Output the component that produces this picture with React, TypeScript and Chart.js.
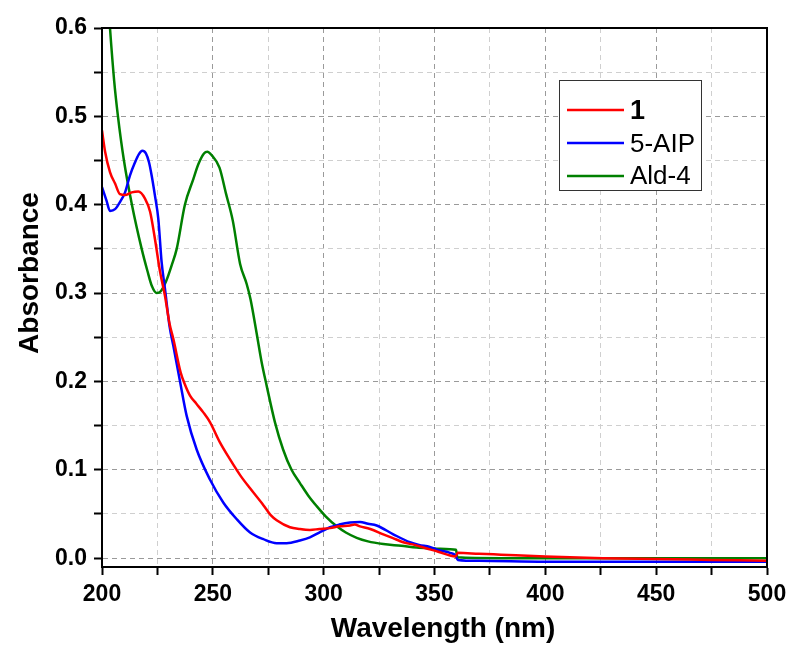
import React, { useEffect, useRef } from "react";
import { Chart, registerables } from "chart.js";

Chart.register(...registerables);

const seriesNames = ["1", "5-AIP", "Ald-4"];
const seriesColors = ["#ff0000", "#0000ff", "#008000"];

const wl1 = [200, 201.4, 203.6, 205.9, 208.1, 210.4, 213.4, 216.4, 219.4, 221.7, 223.9, 226.2, 228.4, 230.5, 232.2, 235.5, 237.5, 239.7, 242.5, 245.7, 248.7, 253.2, 257.7, 262.3, 266.8, 272.8, 276, 278.8, 284.8, 289.3, 293.8, 298, 302.9, 307, 311.9, 314, 316.4, 321, 326.9, 331, 335.9, 341, 346.5, 352, 357, 359.5, 360.5, 370, 380, 400, 426, 450, 475, 500];
const abs1 = [0.484, 0.46, 0.437, 0.424, 0.412, 0.411, 0.414, 0.415, 0.407, 0.392, 0.361, 0.324, 0.297, 0.265, 0.248, 0.21, 0.196, 0.184, 0.175, 0.165, 0.154, 0.131, 0.112, 0.094, 0.079, 0.06, 0.049, 0.043, 0.035, 0.033, 0.032, 0.033, 0.034, 0.036, 0.037, 0.038, 0.036, 0.033, 0.027, 0.023, 0.018, 0.015, 0.011, 0.007, 0.003, 0.002, 0.006, 0.005, 0.004, 0.002, 0.0, -0.001, -0.002, -0.003];

const wlAIP = [200, 202, 203.6, 205.9, 208.1, 210.4, 212.6, 214.9, 216.6, 218.2, 219.8, 221.2, 222.4, 223.9, 225.4, 226.9, 228.4, 230.5, 232.2, 235.2, 238.2, 242.7, 248.7, 254.7, 260.8, 266.8, 272.8, 278.8, 283.3, 289.3, 293.8, 298, 302.9, 307, 311.9, 316.4, 320, 323.9, 331.4, 338.9, 343, 347.9, 352, 357, 359.5, 360.5, 370, 400, 450, 500];
const absAIP = [0.42, 0.405, 0.393, 0.395, 0.403, 0.414, 0.433, 0.448, 0.457, 0.461, 0.458, 0.448, 0.433, 0.41, 0.384, 0.335, 0.305, 0.262, 0.24, 0.2, 0.161, 0.123, 0.089, 0.063, 0.044, 0.029, 0.0215, 0.017, 0.017, 0.02, 0.0235, 0.029, 0.035, 0.038, 0.0404, 0.041, 0.039, 0.037, 0.027, 0.018, 0.015, 0.0127, 0.009, 0.006, 0.003, -0.002, -0.003, -0.004, -0.004, -0.004];

const wlAld = [200, 202, 203.6, 205.5, 207.2, 209.9, 213.5, 217.9, 220.5, 222.5, 224.7, 226.5, 229, 231.5, 233.7, 237.4, 241.2, 243.5, 246, 247.5, 249.5, 253, 256, 259, 262.3, 265.3, 267, 269.8, 272, 274.3, 278, 281.7, 285.5, 289.3, 293, 296.8, 301, 305.9, 310, 314.9, 320, 326.9, 335, 342, 350, 357, 359.7, 360.3, 380, 400, 450, 500];
const absAld = [0.74, 0.66, 0.6, 0.54, 0.5, 0.45, 0.4, 0.35, 0.325, 0.308, 0.3, 0.302, 0.314, 0.332, 0.35, 0.4, 0.429, 0.446, 0.458, 0.46, 0.456, 0.442, 0.412, 0.382, 0.333, 0.31, 0.293, 0.254, 0.222, 0.195, 0.154, 0.123, 0.1, 0.085, 0.071, 0.059, 0.047, 0.036, 0.029, 0.023, 0.019, 0.016, 0.014, 0.012, 0.011, 0.01, 0.0095, 0.001, 0.0, 0.0, 0.0, 0.0];

const xTickValues = [200, 225, 250, 275, 300, 325, 350, 375, 400, 425, 450, 475, 500];
const xLabelValues = [200, 250, 300, 350, 400, 450, 500];
const yTickValues = [0, 0.05, 0.1, 0.15, 0.2, 0.25, 0.3, 0.35, 0.4, 0.45, 0.5, 0.55, 0.6];
const yLabelValues = ["0.0", "0.1", "0.2", "0.3", "0.4", "0.5", "0.6"];

const xTitle = "Wavelength (nm)";
const yTitle = "Absorbance";

const FONT = "'Liberation Sans', Arial, sans-serif";

const toPoints = (xs: number[], ys: number[]) => xs.map((x, i) => ({ x, y: ys[i] }));

const framePlugin = {
  id: "frameAndLegend",
  afterDraw(chart: any) {
    const { ctx, chartArea } = chart;
    ctx.save();
    ctx.setLineDash([]);
    ctx.strokeStyle = "#000";
    ctx.lineWidth = 2;
    ctx.strokeRect(chartArea.left, chartArea.top, chartArea.right - chartArea.left, chartArea.bottom - chartArea.top);

    // axis titles
    ctx.fillStyle = "#000";
    ctx.font = `bold 28px ${FONT}`;
    ctx.textAlign = "center";
    ctx.textBaseline = "alphabetic";
    ctx.fillText(xTitle, 443, 637);
    ctx.save();
    ctx.translate(38, 273);
    ctx.rotate(-Math.PI / 2);
    ctx.fillText(yTitle, 0, 0);
    ctx.restore();

    // legend
    const lx = 559.5, ly = 80.5, lw = 142, lh = 110;
    ctx.fillStyle = "#fff";
    ctx.fillRect(lx, ly, lw, lh);
    ctx.strokeStyle = "#333";
    ctx.lineWidth = 1;
    ctx.strokeRect(lx, ly, lw, lh);
    const lineYs = [110, 143, 176];
    const textYs = [119, 152, 184];
    seriesNames.forEach((name, i) => {
      ctx.strokeStyle = seriesColors[i];
      ctx.lineWidth = 2.5;
      ctx.beginPath();
      ctx.moveTo(567, lineYs[i]);
      ctx.lineTo(624, lineYs[i]);
      ctx.stroke();
      ctx.fillStyle = "#000";
      ctx.textAlign = "left";
      ctx.font = i === 0 ? `bold 27px ${FONT}` : `26px ${FONT}`;
      ctx.fillText(name, 630, textYs[i]);
    });
    ctx.restore();
  },
};

export default function App() {
  const ref = useRef<HTMLCanvasElement | null>(null);
  useEffect(() => {
    if (!ref.current) return;
    const datasets = [toPoints(wl1, abs1), toPoints(wlAIP, absAIP), toPoints(wlAld, absAld)].map((data, i) => ({
      label: seriesNames[i],
      data,
      borderColor: seriesColors[i],
      backgroundColor: seriesColors[i],
      borderWidth: 2.5,
      pointRadius: 0,
      cubicInterpolationMode: "monotone" as const,
      fill: false,
    }));
    const gridColor = (major: boolean) => (major ? "#9a9a9a" : "#cfcfcf");
    const chart = new Chart(ref.current, {
      type: "line",
      data: { datasets },
      plugins: [framePlugin],
      options: {
        animation: false,
        responsive: false,
        maintainAspectRatio: false,
        layout: { padding: { top: 28, right: 26, left: 0, bottom: 0 } },
        plugins: { legend: { display: false }, tooltip: { enabled: false } },
        scales: {
          x: {
            type: "linear",
            min: 200,
            max: 500,
            afterBuildTicks: (scale: any) => {
              scale.ticks = xTickValues.map((v) => ({ value: v }));
            },
            afterFit: (scale: any) => {
              scale.height = 81;
            },
            ticks: {
              autoSkip: false,
              maxRotation: 0,
              padding: 6,
              color: "#000",
              font: { family: FONT, size: 23, weight: "bold" },
              callback: (v: any) => (xLabelValues.includes(Number(v)) ? String(v) : ""),
            },
            grid: {
              color: (c: any) => gridColor(c.tick && c.tick.value % 50 === 0),
              lineWidth: 1,
              borderDash: [5, 4],
              tickColor: "#000",
              tickLength: 8,
              tickWidth: 2,
              tickBorderDash: [],
            } as any,
            border: { display: true, color: "#000", width: 2, dash: [5, 4] } as any,
          },
          y: {
            type: "linear",
            min: -0.01,
            max: 0.6,
            afterBuildTicks: (scale: any) => {
              scale.ticks = yTickValues.map((v) => ({ value: v }));
            },
            afterFit: (scale: any) => {
              scale.width = 102;
            },
            ticks: {
              autoSkip: false,
              padding: 7,
              color: "#000",
              font: { family: FONT, size: 23, weight: "bold" },
              callback: (v: any) => {
                const s = Number(v).toFixed(1);
                return Math.abs(Number(v) * 10 - Math.round(Number(v) * 10)) < 1e-6 && yLabelValues.includes(s) ? s : "";
              },
            },
            grid: {
              color: (c: any) =>
                gridColor(c.tick && Math.abs(c.tick.value * 10 - Math.round(c.tick.value * 10)) < 1e-6),
              lineWidth: 1,
              borderDash: [5, 4],
              tickColor: "#000",
              tickLength: 8,
              tickWidth: 2,
              tickBorderDash: [],
            } as any,
            border: { display: true, color: "#000", width: 2, dash: [5, 4] } as any,
          },
        },
      },
    });
    return () => chart.destroy();
  }, []);
  return (
    <div style={{ position: "fixed", left: 0, top: 0, width: 793, height: 648, background: "#fff" }}>
      <canvas ref={ref} width={793} height={648} style={{ width: 793, height: 648 }} />
    </div>
  );
}
